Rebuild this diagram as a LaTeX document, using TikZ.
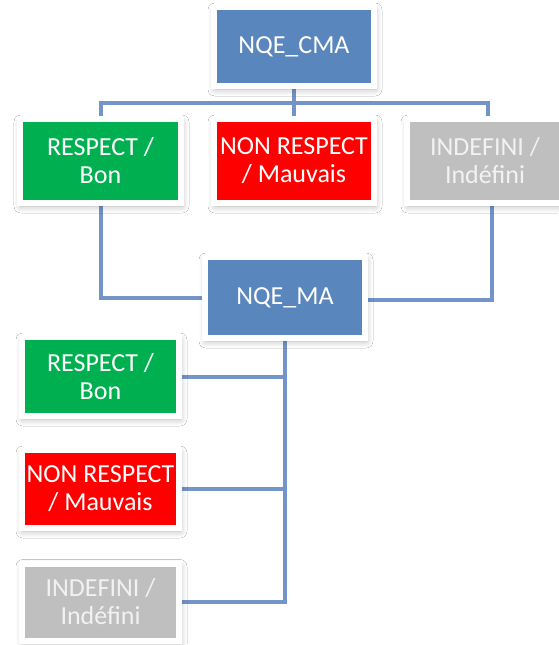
\documentclass[tikz,border=0pt]{standalone}
\usepackage{fontspec}
\setmainfont{Carlito}
\usetikzlibrary{backgrounds,shadows.blur}
\definecolor{boxblue}{RGB}{90,134,190}
\definecolor{boxgreen}{RGB}{0,176,80}
\definecolor{boxred}{RGB}{255,0,0}
\definecolor{boxgray}{RGB}{191,191,191}
\definecolor{linkblue}{RGB}{115,148,201}
\definecolor{graytext}{RGB}{242,242,242}
\tikzset{
  card/.style={draw=white, line width=6pt, inner sep=0pt, align=center,
    text=white, font=\fontsize{26}{28}\selectfont,
    blur shadow={shadow xshift=1pt, shadow yshift=-3pt, shadow blur radius=7pt, shadow blur steps=8, shadow opacity=30}},
  conn/.style={draw=linkblue, line width=4pt}
}
\begin{document}
\begin{tikzpicture}[x=1pt,y=-1pt]
\useasboundingbox (0,0) rectangle (558,645);
% top level
\node[card, fill=boxblue, minimum width=160pt, minimum height=79pt] (cma) at (294,46.5) {NQE\_CMA};
\node[card, fill=boxgreen, minimum width=161pt, minimum height=84pt] (g1) at (100.5,161) {RESPECT /\\Bon};
\node[card, fill=boxred, minimum width=160pt, minimum height=84pt] (r1) at (294,161) {NON RESPECT\\/ Mauvais};
\node[card, fill=boxgray, text=graytext, minimum width=156pt, minimum height=84pt] (y1) at (485,161) {INDEFINI /\\Indéfini};
% second level
\node[card, fill=boxblue, minimum width=160pt, minimum height=81pt] (ma) at (285,297.5) {NQE\_MA};
\node[card, fill=boxgreen, minimum width=157pt, minimum height=79pt] (g2) at (100.5,376.5) {RESPECT /\\Bon};
\node[card, fill=boxred, minimum width=157pt, minimum height=78pt] (r2) at (100.5,489) {NON RESPECT\\/ Mauvais};
\node[card, fill=boxgray, text=graytext, minimum width=157pt, minimum height=77pt] (y2) at (100.5,602) {INDEFINI /\\Indéfini};
% junctions
\coordinate (jc) at (294,103);
\coordinate (jl) at (100.5,103);
\coordinate (jr) at (488,103);
\coordinate (jr2) at (492,300);
\coordinate (mb) at (ma.south |- y2.east);
\begin{scope}[on background layer]
\fill[white] (0,0) rectangle (558,645);
\draw[conn] (cma) -- (jc);
\draw[conn, line cap=rect] (jl) -- (jr);
\draw[conn] (jl) -- (g1);
\draw[conn] (jc) -- (r1);
\draw[conn] (jr) -- (jr |- y1.north);
\draw[conn] (g1) |- (ma.west);
\draw[conn] (jr2 |- y1.south) -- (jr2) -- (ma.east |- jr2);
\draw[conn, line cap=rect] (ma) -- (mb);
\draw[conn] (g2.east) -- (g2.east -| mb);
\draw[conn] (r2.east) -- (r2.east -| mb);
\draw[conn] (y2.east) -- (mb);
\end{scope}
\end{tikzpicture}
\end{document}
